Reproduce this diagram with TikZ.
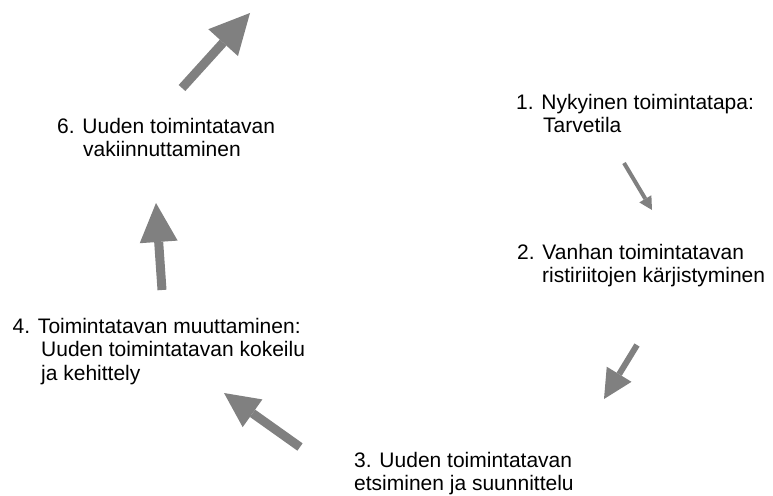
\documentclass[tikz,border=0pt]{standalone}
\usepackage{fontspec}
\setmainfont{Liberation Sans}
\usetikzlibrary{arrows.meta}
\definecolor{arrowgray}{RGB}{128,128,128}
\begin{document}
\begin{tikzpicture}[x=1pt,y=-1pt,
  stage/.style={anchor=base west, inner sep=0pt, font=\fontsize{21}{23.5}\selectfont},
  flow/.style n args={3}{draw=arrowgray, line width=#1,
    -{Triangle[length=#2, width=#3, line width=0pt]}}]
\path[use as bounding box] (0,0) rectangle (773,495);
% stages
\node[stage] (s1) at (516,109) {\begin{tabular}[t]{@{}l@{}}1. Nykyinen toimintatapa:\\\hspace*{27pt}Tarvetila\end{tabular}};
\node[stage] (s2) at (517,259) {\begin{tabular}[t]{@{}l@{}}2. Vanhan toimintatavan\\\hspace*{25pt}ristiriitojen kärjistyminen\end{tabular}};
\node[stage] (s3) at (354,467) {\begin{tabular}[t]{@{}l@{}}3. Uuden toimintatavan\\etsiminen ja suunnittelu\end{tabular}};
\node[stage] (s4) at (12.5,333) {\begin{tabular}[t]{@{}l@{}}4. Toimintatavan muuttaminen:\\\hspace*{28.5pt}Uuden toimintatavan kokeilu\\\hspace*{28.5pt}ja kehittely\end{tabular}};
\node[stage] (s6) at (57,133) {\begin{tabular}[t]{@{}l@{}}6. Uuden toimintatavan\\\hspace*{26pt}vakiinnuttaminen\end{tabular}};
% arrow ends
\coordinate (a1) at (182,88);  \coordinate (a2) at (250,13);
\coordinate (b1) at (624,163); \coordinate (b2) at (652,210);
\coordinate (c1) at (637,345); \coordinate (c2) at (604,399);
\coordinate (d1) at (300,447); \coordinate (d2) at (224,393);
\coordinate (e1) at (162,290); \coordinate (e2) at (156,203);
% arrows
\draw[flow={9pt}{40pt}{40pt}] (a1) -- (a2);
\draw[flow={4pt}{13pt}{14pt}] (b1) -- (b2);
\draw[flow={6pt}{29pt}{29pt}] (c1) -- (c2);
\draw[flow={9pt}{35pt}{34pt}] (d1) -- (d2);
\draw[flow={9pt}{39pt}{38pt}] (e1) -- (e2);
\end{tikzpicture}
\end{document}
